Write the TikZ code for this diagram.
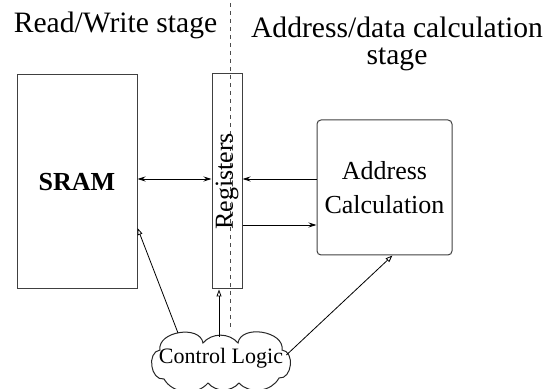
\documentclass[tikz,border=0pt]{standalone}
\usepackage{fontspec}
\setmainfont{Liberation Serif}
\usetikzlibrary{arrows.meta, positioning}

\begin{document}
\begin{tikzpicture}[x=0.5pt, y=0.5pt,
    every node/.style={font=\fontsize{13pt}{17pt}\selectfont},
    block/.style={draw=black!75, line width=0.5pt, inner sep=0pt},
    >={Stealth[length=4pt,width=2.5pt]},
    data/.style={line width=0.4pt},
    ctrlarrow/.style={-{Triangle[open,length=3.5pt,width=2.5pt]}, line width=0.4pt}]
  \useasboundingbox (0,0) rectangle (547,389);

  % stage headings and divider
  \node[font=\fontsize{14.8pt}{13.5pt}\selectfont, anchor=base] (rwstage) at (115.5,356) {Read/Write stage};
  \node[font=\fontsize{14.8pt}{13.5pt}\selectfont, align=center, anchor=north] (adstage) at (397,379) {Address/data calculation\\stage};
  \draw[black!70, line width=0.4pt, dash pattern=on 2pt off 2pt] (230,386) -- (230,58);

  % blocks
  \node[block, minimum width=60pt, minimum height=107pt, font=\fontsize{13pt}{15pt}\selectfont\bfseries] (sram) at (77,207) {SRAM};
  \node[block, minimum width=15pt, minimum height=107.5pt] (regs) at (227,207.5) {\rotatebox{90}{Registers}};
  \node[block, rounded corners=2pt, minimum width=67.5pt, minimum height=67.5pt, align=center] (addr) at (384.5,201.5) {Address\\Calculation};

  % control logic cloud
  \node[inner sep=0pt, minimum width=68pt, minimum height=21pt, font=\fontsize{11pt}{13pt}\selectfont] (ctrl) at (221,31) {Control Logic};
  \draw[black!85, line width=0.5pt]
    (160,39) to[bend left=90, looseness=1.1] (203,46) to[bend left=50] (238,46) to[bend left=90, looseness=1.1] (282,39)
    to[bend left=90, looseness=1.2] (279,11) to[bend left=55] (239,6) to[bend left=50] (208,6)
    to[bend left=55] (164,10) to[bend left=90, looseness=1.2] cycle;
  \coordinate (cloudtl) at (178,56);

  % data paths
  \draw[data, <->] (sram.east |- 0,210) -- (regs.west |- 0,210);
  \draw[data, ->] (addr.west |- 0,210) -- (regs.east |- 0,210);
  \draw[data, ->] (regs.east |- 0,164) -- (addr.west |- 0,164);

  % control
  \draw[ctrlarrow] (cloudtl) -- ([yshift=-23pt]sram.east);
  \draw[ctrlarrow] ([xshift=-1pt]ctrl.north) -- ([xshift=-1pt]ctrl.north |- regs.south);
  \draw[ctrlarrow] ([xshift=-1.5pt, yshift=1.5pt]ctrl.east) -- ([xshift=4pt]addr.south);
\end{tikzpicture}
\end{document}
